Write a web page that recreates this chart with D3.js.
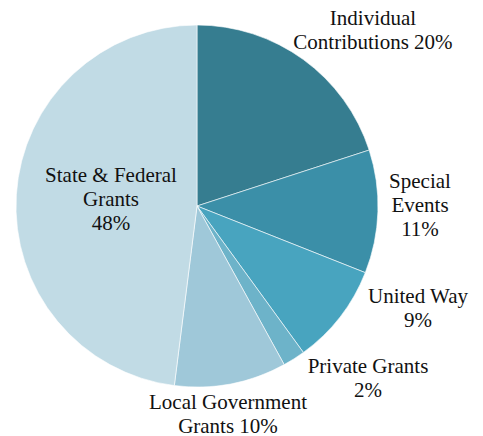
<!DOCTYPE html>
<html>
<head>
<meta charset="utf-8">
<script src="https://cdn.jsdelivr.net/npm/d3@7"></script>
<style>
  body { margin: 0; background: #fff; }
  .lbl { font-family: "Liberation Serif", "DejaVu Serif", "Times New Roman", serif; font-size: 21px; }
</style>
</head>
<body>
<div id="chart"></div>
<script>
const categories = ["Individual Contributions", "Special Events", "United Way", "Private Grants", "Local Government Grants", "State & Federal Grants"];
const values = [20, 11, 9, 2, 10, 48];
const labelLines = [
  ["Individual", "Contributions 20%"],
  ["Special", "Events", "11%"],
  ["United Way", "9%"],
  ["Private Grants", "2%"],
  ["Local Government", "Grants 10%"],
  ["State & Federal", "Grants", "48%"]
];
const colors = ["#367d90", "#3b8fa8", "#48a4bf", "#6db3c9", "#9fc8d9", "#c1dbe5"];

const width = 483, height = 436;
const cx = 197, cy = 206, radius = 181;

// label anchor positions (center x, first baseline y)
const labelPos = [[373, 25], [420, 188], [418, 303], [368, 373], [228, 409], [111, 182]];

const data = categories.map((c, i) => ({ name: c, value: values[i], lines: labelLines[i] }));

const svg = d3.select("#chart").append("svg")
  .attr("width", width)
  .attr("height", height);

const pie = d3.pie().sort(null).value(d => d.value);
const arc = d3.arc().innerRadius(0).outerRadius(radius);

const g = svg.append("g").attr("transform", `translate(${cx},${cy})`);

g.selectAll("path")
  .data(pie(data))
  .join("path")
  .attr("d", arc)
  .attr("fill", (d, i) => colors[i])
  .attr("stroke", "#fff")
  .attr("stroke-width", 0.6);

const labels = svg.append("g")
  .attr("class", "lbl")
  .attr("fill", "#111")
  .attr("text-anchor", "middle");

labels.selectAll("text")
  .data(data)
  .join("text")
  .attr("x", (d, i) => labelPos[i][0])
  .attr("y", (d, i) => labelPos[i][1])
  .each(function (d, i) {
    d3.select(this).selectAll("tspan")
      .data(d.lines)
      .join("tspan")
      .attr("x", labelPos[i][0])
      .attr("dy", (l, j) => j === 0 ? 0 : 24)
      .text(l => l);
  });
</script>
</body>
</html>
